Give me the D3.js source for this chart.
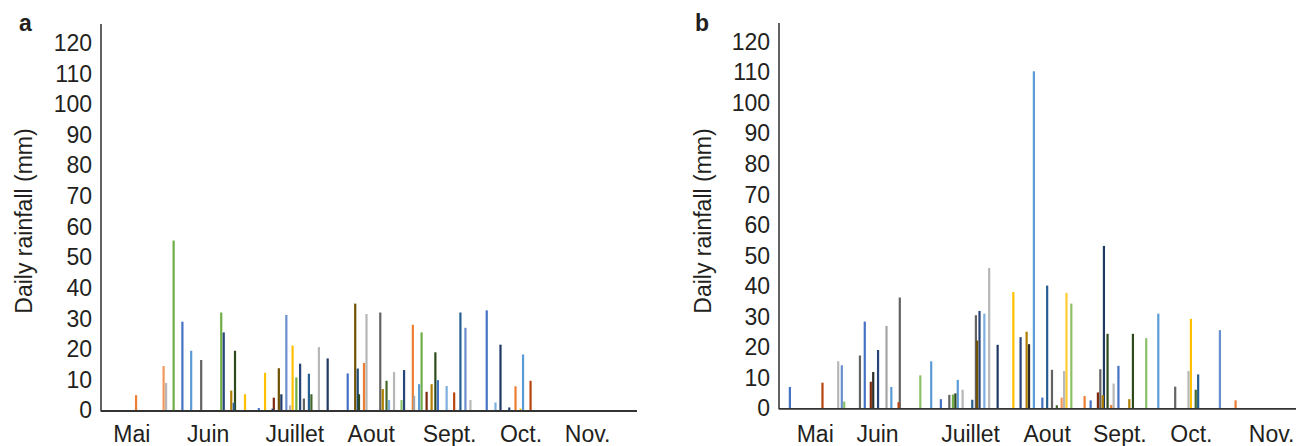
<!DOCTYPE html>
<html>
<head>
<meta charset="utf-8">
<script src="https://cdn.jsdelivr.net/npm/d3@7"></script>
<style>
  html, body { margin: 0; padding: 0; background: #fff; }
  svg { display: block; font-family: "Liberation Sans", Arial, sans-serif; }
</style>
</head>
<body>
<svg id="chart" width="1296" height="446"></svg>
<script>
// month labels and where they sit (days since 1 May)
var months = ["Mai", "Juin", "Juillet", "Aout", "Sept.", "Oct.", "Nov."];
var monthDayA = [12.3, 42.8, 77.4, 107.9, 139.2, 167.7, 194.3];
var monthDayB = [15.0, 40.8, 79.3, 111.0, 141.1, 170.7, 203.9];
var yTicks = [0, 10, 20, 30, 40, 50, 60, 70, 80, 90, 100, 110, 120];

// series colours (one per year)
var palette = ["#4472C4", "#ED7D31", "#A5A5A5", "#FFC000", "#5B9BD5", "#70AD47",
               "#264478", "#B8440E", "#636363", "#B07F00", "#255E91", "#43682B",
               "#698ED0", "#F1975A", "#B7B7B7", "#FFCD33", "#7CAFDD", "#8CC168",
               "#1F3864", "#7F2A0C", "#2B2B2B", "#6E5000", "#1F4E79", "#2E4A1C"];

// panel a
var dayA = [14, 25, 26, 29, 32.5, 36, 40, 48, 49, 52, 53, 53.5, 57.5, 63, 65.5, 68.5,
            69, 71, 72, 74, 75.5, 76.5, 78, 79.5, 81, 83, 84, 87, 90.5, 98.5, 101.5,
            102.5, 103, 105, 106, 111.5, 112.5, 114, 115, 117, 120, 121, 124.5, 125,
            127, 128, 130, 132, 133.5, 134.5, 138, 141, 143.5, 145.5, 147.5, 154,
            157.5, 159.5, 163, 165.5, 167.5, 168.5, 171.5];
var rainA = [5, 14.5, 9, 55.5, 29, 19.5, 16.5, 32, 25.5, 6.5, 2.5, 19.5, 5.3, 0.8, 12.3, 0.6,
             4.2, 13.8, 5.3, 31.2, 1.7, 21.2, 10.8, 15.3, 3.9, 12, 5.3, 20.7, 17, 12.1, 34.9,
             13.7, 5.3, 15.5, 31.5, 32, 7, 9.7, 3.4, 12.6, 3.4, 13.2, 28, 4.8,
             8.6, 25.5, 6.1, 8.6, 19, 9.9, 8, 5.9, 32, 27, 3.4, 32.7,
             2.6, 21.5, 1, 7.9, 0.6, 18.3, 9.7];
var seriesA = [1, 13, 14, 5, 0, 4, 8, 5, 6, 9, 10, 23, 3, 0, 3, 6,
               19, 21, 18, 12, 14, 3, 5, 6, 8, 10, 11, 14, 18, 0, 21,
               22, 23, 1, 14, 8, 9, 11, 16, 14, 17, 6, 1, 2,
               4, 5, 19, 9, 23, 0, 16, 7, 10, 12, 14, 0,
               16, 18, 6, 1, 3, 4, 7];

// panel b
var dayB = [4.5, 18, 24.5, 26, 27, 33.5, 35.5, 38, 39, 41, 44.5, 46.5, 49.5, 50, 58.5,
            63, 67, 70.5, 72, 73, 74, 76, 80, 81.5, 82, 83, 85, 87, 90.5, 97, 100,
            102.5, 103.5, 105.5, 109, 111, 113, 115, 117, 118, 119, 121, 126.5, 129,
            132, 133, 134, 134.5, 136, 137.5, 138.5, 140.5, 145, 146.5, 152, 157,
            164, 169.5, 170.5, 172.5, 173.5, 182.5, 189];
var rainB = [7, 8.4, 15.4, 14.1, 2.2, 17.3, 28.4, 8.7, 11.9, 19.1, 27, 7, 2, 36.3, 10.8,
             15.4, 3, 4.4, 4.5, 4.9, 9.3, 6.1, 2.8, 30.5, 22.2, 31.9, 31, 46, 20.8, 38.1, 23.3,
             25.1, 21, 110.4, 3.5, 40.2, 12.6, 1, 3.5, 12.2, 37.8, 34.3, 4, 2.6,
             5.2, 12.8, 4.3, 53.2, 24.4, 1.1, 8.1, 13.9, 3, 24.4, 23, 31,
             7.1, 12.2, 29.3, 6.1, 11.1, 25.6, 2.6];
var seriesB = [0, 7, 14, 12, 17, 8, 0, 19, 20, 6, 2, 4, 7, 8, 17,
               4, 0, 8, 5, 23, 4, 14, 10, 8, 21, 6, 16, 14, 18, 3, 6,
               9, 20, 4, 0, 10, 8, 11, 13, 14, 15, 17, 1, 0,
               19, 8, 9, 18, 23, 1, 14, 0, 9, 23, 17, 4,
               8, 14, 3, 11, 10, 12, 1];

var svg = d3.select("#chart");
var ink = "#231f20";

function drawPanel(p) {
    var x = d3.scaleLinear().domain([0, 214]).range([p.left, p.right]);
    var y = d3.scaleLinear().domain([0, 120]).range([p.base, p.top120]);
    var g = svg.append("g");

    var bars = d3.range(p.days.length).map(function (i) {
        return {day: p.days[i], v: p.rain[i], s: p.series[i]};
    }).sort(function (a, b) { return b.v - a.v; });

    g.selectAll("rect.bar").data(bars).enter().append("rect")
        .attr("class", "bar")
        .attr("x", function (d) { return x(d.day) - 1.1; })
        .attr("width", 2.2)
        .attr("y", function (d) { return y(d.v); })
        .attr("height", function (d) { return y(0) - y(d.v); })
        .attr("fill", function (d) { return palette[d.s]; });

    // y axis: labels only, line drawn separately so it can run past 120
    var ax = g.append("g")
        .attr("transform", "translate(" + (p.left - 9) + ",0)")
        .call(d3.axisLeft(y).tickValues(yTicks).tickSize(0).tickPadding(0));
    ax.select(".domain").remove();
    ax.selectAll("text")
        .attr("font-size", 23)
        .attr("font-family", "Liberation Sans, Arial, sans-serif")
        .attr("fill", ink);

    g.append("line")
        .attr("x1", p.left).attr("x2", p.left)
        .attr("y1", p.axisTop).attr("y2", p.base + 1)
        .attr("stroke", ink).attr("stroke-width", 1.4);
    g.append("line")
        .attr("x1", p.left).attr("x2", p.right)
        .attr("y1", p.base + 0.5).attr("y2", p.base + 0.5)
        .attr("stroke", "#333").attr("stroke-width", 1.8);

    g.selectAll("text.month").data(months).enter().append("text")
        .attr("class", "month")
        .attr("x", function (d, i) { return x(p.monthDay[i]); })
        .attr("y", 442)
        .attr("text-anchor", "middle")
        .attr("font-size", 23)
        .attr("fill", ink)
        .text(function (d) { return d; });

    g.append("text")
        .attr("transform", "translate(" + (p.titleX) + "," + 221 + ") rotate(-90)")
        .attr("text-anchor", "middle")
        .attr("dominant-baseline", "central")
        .attr("font-size", 23)
        .attr("fill", ink)
        .text("Daily rainfall (mm)");

    g.append("text")
        .attr("x", p.letterX).attr("y", 31)
        .attr("text-anchor", "middle")
        .attr("font-weight", "bold")
        .attr("font-size", 23)
        .attr("fill", ink)
        .text(p.letter);
}

drawPanel({left: 101, right: 637, base: 410.5, top120: 43, axisTop: 24,
           days: dayA, rain: rainA, series: seriesA, monthDay: monthDayA,
           titleX: 24, letterX: 25.5, letter: "a"});
drawPanel({left: 779, right: 1296, base: 408.3, top120: 42, axisTop: 23,
           days: dayB, rain: rainB, series: seriesB, monthDay: monthDayB,
           titleX: 703, letterX: 702, letter: "b"});
</script>
</body>
</html>
